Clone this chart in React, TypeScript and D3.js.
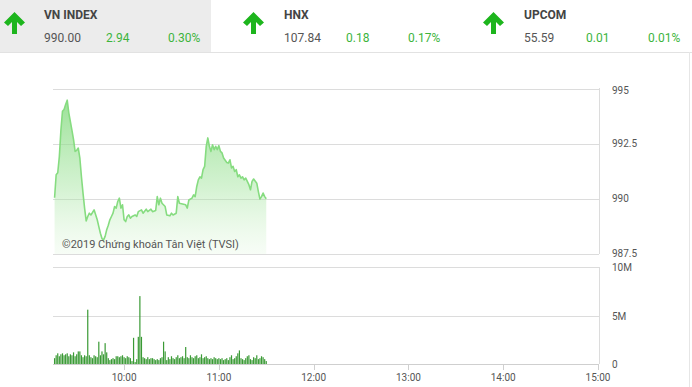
import React from "react";
import * as d3 from "d3";

const W = 692;
const H = 387;

// Header indices
const indexNames = ["VN INDEX", "HNX", "UPCOM"];
const indexValues = ["990.00", "107.84", "55.59"];
const indexChanges = ["2.94", "0.18", "0.01"];
const indexPercents = ["0.30%", "0.17%", "0.01%"];

// Intraday price (VN-Index)
const priceTimes = [
  "09:16","09:17","09:18","09:19","09:20","09:21","09:22","09:23","09:24","09:25",
  "09:27","09:28","09:29","09:30","09:31","09:32","09:33","09:34","09:35","09:36",
  "09:37","09:38","09:39","09:40","09:41","09:43","09:44","09:45","09:46","09:47",
  "09:48","09:49","09:50","09:51","09:52","09:53","09:54","09:55","09:56","09:57",
  "09:58","09:59","10:00","10:01","10:02","10:03","10:04","10:05","10:07","10:08",
  "10:09","10:11","10:12","10:14","10:15","10:17","10:18","10:20","10:21","10:22",
  "10:23","10:24","10:26","10:27","10:29","10:30","10:31","10:33","10:34","10:35",
  "10:37","10:39","10:40","10:41","10:43","10:44","10:45","10:46","10:47","10:48",
  "10:49","10:50","10:51","10:52","10:53","10:54","10:55","10:56","10:57","10:58",
  "10:59","11:00","11:01","11:02","11:03","11:05","11:06","11:07","11:08","11:09",
  "11:10","11:11","11:12","11:13","11:14","11:15","11:16","11:17","11:18","11:19",
  "11:20","11:21","11:22","11:24","11:25","11:26","11:27","11:28","11:29","11:30"
];
const priceValues = [
  990.05, 991.09, 991.18, 991.9, 993.1, 993.97, 994.05, 994.27, 994.47, 993.9,
  993.1, 992.68, 992.15, 992.2, 992.3, 991.85, 991.0, 990.26, 989.58, 989.0,
  989.2, 989.35, 989.27, 989.38, 989.5, 989.05, 988.74, 988.44, 988.2, 988.14,
  988.3, 988.6, 988.8, 989.05, 989.2, 989.35, 989.65, 989.58, 989.88, 990.03,
  989.58, 989.73, 989.05, 988.97, 989.2, 989.27, 989.12, 989.2, 989.27, 989.2,
  989.42, 989.5, 989.35, 989.53, 989.42, 989.53, 989.42, 989.47, 990.1, 989.73,
  990.03, 989.8, 989.65, 989.27, 989.23, 989.35, 989.27, 989.35, 990.1, 989.8,
  989.77, 989.73, 989.58, 989.95, 990.03, 990.18, 990.1, 990.56, 990.86, 991.0,
  990.94, 991.32, 991.47, 992.38, 992.76, 992.38, 992.15, 992.45, 992.23, 992.38,
  992.23, 992.41, 992.15, 992.08, 991.85, 991.65, 991.62, 991.77, 991.4, 991.47,
  991.24, 991.32, 991.0, 991.09, 990.94, 991.0, 990.86, 990.94, 990.79, 990.64,
  990.41, 990.79, 990.9, 990.71, 990.33, 989.99, 990.1, 990.26, 990.1, 990.0
];

// Volume per minute from 09:15 (millions)
const volumeStart = "09:15";
const volumeValues = [
  0.6, 0.9, 1.1, 0.8, 1.0, 1.1, 0.9, 1.0, 1.1, 0.8,
  1.0, 0.9, 1.2, 0.8, 1.0, 1.3, 1.3, 0.9, 0.7, 0.9,
  0.8, 5.6, 0.9, 0.7, 0.6, 0.9, 0.8, 0.7, 2.3, 0.9,
  1.3, 1.0, 2.15, 1.2, 0.6, 0.4, 0.5, 0.6, 0.5, 0.8,
  0.8, 0.7, 0.8, 0.9, 0.7, 0.6, 0.8, 0.7, 0.6, 0.3,
  2.7, 0.2, 0.5, 2.8, 7.0, 2.8, 0.7, 0.6, 0.5, 0.7,
  0.5, 0.6, 0.6, 0.5, 0.4, 0.5, 0.4, 0.6, 0.7, 2.3,
  1.3, 0.4, 0.7, 0.5, 0.8, 0.6, 0.5, 0.7, 0.9, 0.6,
  0.7, 0.8, 0.6, 1.75, 0.7, 0.6, 0.9, 0.7, 0.6, 0.8,
  0.9, 0.6, 0.7, 1.0, 0.6, 0.7, 0.8, 0.6, 0.5, 0.6,
  0.5, 0.7, 0.6, 0.5, 0.6, 0.5, 0.6, 0.4, 0.5, 0.6,
  0.4, 0.7, 0.9, 0.5, 0.6, 0.8, 1.1, 1.4, 0.6, 0.5,
  0.4, 0.6, 0.8, 0.9, 0.5, 0.4, 0.7, 0.6, 0.9, 0.5,
  0.6, 0.8, 0.7, 0.5, 0.3
];

const priceTicks = [995, 992.5, 990, 987.5];
const volumeTicks = [10, 5, 0];
const volumeTickLabels = ["10M", "5M", "0"];
const timeTicks = ["10:00", "11:00", "12:00", "13:00", "14:00", "15:00"];
const copyright = "©2019 Chứng khoán Tân Việt (TVSI)";

const parse = (s: string) => {
  const [h, m] = s.split(":").map(Number);
  return new Date(2019, 0, 1, h, m);
};

const FONT = "Roboto, 'Noto Sans', sans-serif";

function Arrow({ x, y }: { x: number; y: number }) {
  return (
    <path
      transform={`translate(${x},${y})`}
      d="M10.5,0 L21,10.5 L17,14 L13,10 L13,22 L8,22 L8,10 L4,14 L0,10.5 Z"
      fill="#1db51d"
    />
  );
}

export default function App() {
  const x = d3
    .scaleTime()
    .domain([parse("09:15"), parse("15:00")])
    .range([53, 598]);
  const yP = d3.scaleLinear().domain([987.5, 995]).range([254, 88.5]);
  const yV = d3.scaleLinear().domain([0, 10]).range([364, 267]);

  const pts = priceTimes.map((t, i) => ({ t: parse(t), v: priceValues[i] }));
  const line = d3
    .line<{ t: Date; v: number }>()
    .x((d) => x(d.t))
    .y((d) => yP(d.v));
  const area = d3
    .area<{ t: Date; v: number }>()
    .x((d) => x(d.t))
    .y0(254)
    .y1((d) => yP(d.v));

  const v0 = parse(volumeStart);
  const bars = volumeValues.map((v, i) => ({
    t: new Date(v0.getTime() + (i + 1) * 60000),
    v,
  }));

  const headerX = [0, 240, 480];

  return (
    <svg
      width={W}
      height={H}
      style={{ position: "absolute", left: 0, top: 0, background: "#fff" }}
      fontFamily={FONT}
    >
      <defs>
        <linearGradient id="pg" x1="0" y1="88" x2="0" y2="254" gradientUnits="userSpaceOnUse">
          <stop offset="0" stopColor="#7fd97a" stopOpacity={0.85} />
          <stop offset="0.6" stopColor="#9fe39a" stopOpacity={0.45} />
          <stop offset="1" stopColor="#c9f0c4" stopOpacity={0.15} />
        </linearGradient>
      </defs>

      {/* header */}
      <rect x={0} y={0} width={211} height={52} fill="#ececec" />
      <line x1={0} x2={W} y1={52.5} y2={52.5} stroke="#e2e2e2" />
      <line x1={689.5} x2={689.5} y1={52} y2={H} stroke="#e6e6e6" />
      {indexNames.map((n, i) => {
        const ox = headerX[i];
        return (
          <g key={n}>
            <Arrow x={ox + 4 + (i === 0 ? 0 : i === 1 ? 0 : 0) + (i === 1 ? -1 : i === 2 ? -1 : 0)} y={12} />
            <text x={ox + 44} y={19} fontSize={12} fontWeight="bold" fill="#444">
              {n}
            </text>
            <text x={ox + 44} y={42} fontSize={12} fill="#555">
              {indexValues[i]}
            </text>
            <text x={ox + 106} y={42} fontSize={12} fill="#3cb43c">
              {indexChanges[i]}
            </text>
            <text x={ox + 168} y={42} fontSize={12} fill="#3cb43c">
              {indexPercents[i]}
            </text>
          </g>
        );
      })}

      {/* price chart grid */}
      {priceTicks.map((t) => (
        <line key={t} x1={53} x2={599} y1={Math.round(yP(t)) + 0.5} y2={Math.round(yP(t)) + 0.5} stroke="#dcdcdc" />
      ))}
      <line x1={599.5} x2={599.5} y1={88} y2={254} stroke="#dcdcdc" />
      <path d={area(pts) || ""} fill="url(#pg)" />
      <path d={line(pts) || ""} fill="none" stroke="#86dc80" strokeWidth={1.6} strokeLinejoin="round" />
      <text x={62} y={248} fontSize={11} fill="#555">
        {copyright}
      </text>
      {priceTicks.map((t, i) => (
        <text
          key={t}
          x={612}
          y={yP(t) + (i === 0 ? 2.5 : 0.5)}
          fontSize={10}
          fill="#555"
          dominantBaseline="middle"
        >
          {t}
        </text>
      ))}

      {/* volume chart */}
      {volumeTicks.map((t) => (
        <line
          key={t}
          x1={53}
          x2={599}
          y1={Math.round(yV(t)) + 0.5}
          y2={Math.round(yV(t)) + 0.5}
          stroke={t === 0 ? "#cfcfcf" : "#dcdcdc"}
        />
      ))}
      <line x1={599.5} x2={599.5} y1={267} y2={364} stroke="#dcdcdc" />
      {bars.map((b, i) => (
        <rect
          key={i}
          x={x(b.t) - 0.6}
          y={yV(b.v)}
          width={1.2}
          height={364 - yV(b.v)}
          fill="#3a9a35"
        />
      ))}
      {volumeTicks.map((t, i) => (
        <text key={t} x={612} y={yV(t) + 1.5} fontSize={10} fill="#555" dominantBaseline="middle">
          {volumeTickLabels[i]}
        </text>
      ))}
      {timeTicks.map((t) => (
        <g key={t}>
          <line x1={Math.round(x(parse(t))) + 0.5} x2={Math.round(x(parse(t))) + 0.5} y1={364} y2={370} stroke="#cfcfcf" />
          <text x={x(parse(t))} y={381} fontSize={10} fill="#555" textAnchor="middle">
            {t}
          </text>
        </g>
      ))}
    </svg>
  );
}
